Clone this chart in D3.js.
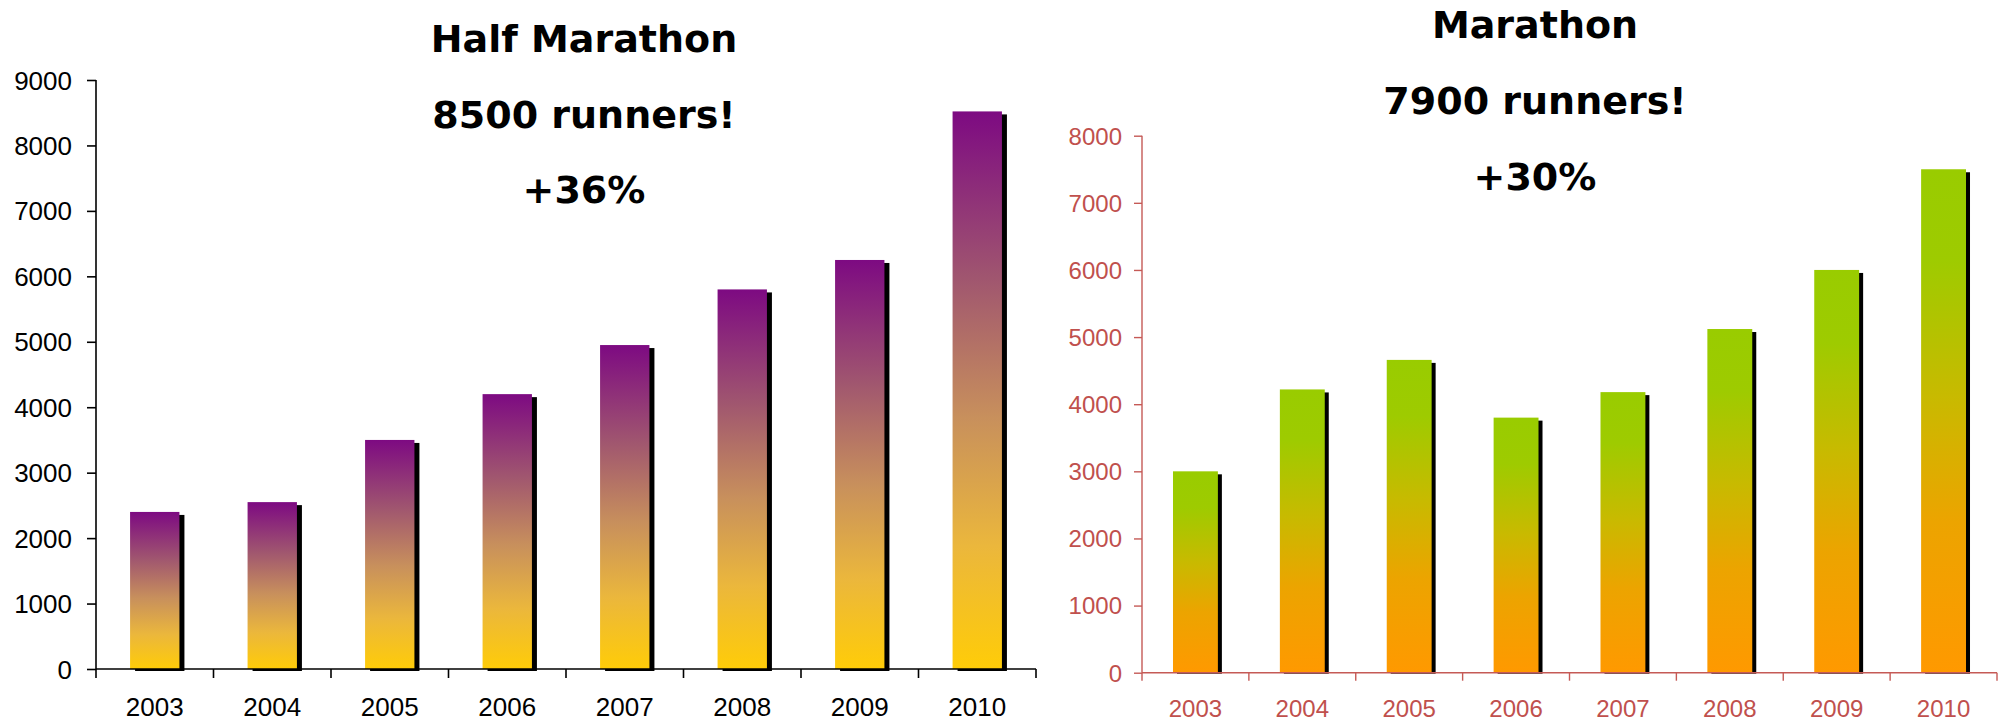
<!DOCTYPE html>
<html>
<head>
<meta charset="utf-8">
<script src="https://cdn.jsdelivr.net/npm/d3@7"></script>
<style>
  html, body { margin: 0; padding: 0; background: #fff; }
  svg { display: block; }
</style>
</head>
<body>
<svg id="chart" width="2004" height="721"></svg>
<script>
// ---- data ----
const years = ["2003", "2004", "2005", "2006", "2007", "2008", "2009", "2010"];
const halfMarathon = [2400, 2550, 3500, 4200, 4950, 5800, 6250, 8520];
const marathon = [3000, 4220, 4660, 3800, 4180, 5120, 6000, 7500];
const halfTicks = [0, 1000, 2000, 3000, 4000, 5000, 6000, 7000, 8000, 9000];
const fullTicks = [0, 1000, 2000, 3000, 4000, 5000, 6000, 7000, 8000];
const halfTitle = ["Half Marathon", "8500 runners!", "+36%"];
const fullTitle = ["Marathon", "7900 runners!", "+30%"];

const svg = d3.select("#chart");
const defs = svg.append("defs");

function gradient(id, stops) {
  const g = defs.append("linearGradient").attr("id", id)
    .attr("x1", 0).attr("y1", 0).attr("x2", 0).attr("y2", 1);
  stops.forEach(s => g.append("stop").attr("offset", s[0]).attr("stop-color", s[1]));
}
gradient("gHalf", [[0, "#7d0a82"], [0.3, "#a0566f"], [0.55, "#c8905c"], [0.78, "#ebb73c"], [1, "#ffcc08"]]);
gradient("gFull", [[0, "#99cc00"], [0.18, "#9ecb00"], [0.45, "#c8ba00"], [0.7, "#eca400"], [1, "#ff9900"]]);

function drawChart(cfg) {
  const g = svg.append("g");
  const x = d3.scaleBand().domain(years).range([cfg.x0, cfg.x1]).padding(0);
  const y = d3.scaleLinear().domain([0, cfg.max]).range([cfg.yBase, cfg.yTop]);
  const bw = x.bandwidth() * 0.42;
  const cx = d => x(d) + x.bandwidth() / 2;

  // shadows
  g.selectAll(".sh").data(cfg.values).join("rect")
    .attr("x", (d, i) => cx(years[i]) - bw / 2 + cfg.shX)
    .attr("y", d => y(d) + cfg.shY)
    .attr("width", bw)
    .attr("height", d => y(0) - y(d) + cfg.shB)
    .attr("fill", "#000");
  // bars
  g.selectAll(".bar").data(cfg.values).join("rect")
    .attr("x", (d, i) => cx(years[i]) - bw / 2)
    .attr("y", d => y(d))
    .attr("width", bw)
    .attr("height", d => y(0) - y(d))
    .attr("fill", `url(#${cfg.grad})`);

  // y axis
  const ya = g.append("g").attr("transform", `translate(${cfg.x0},0)`)
    .call(d3.axisLeft(y).tickValues(cfg.ticks).tickFormat(d3.format("d"))
      .tickSize(cfg.tick).tickPadding(cfg.pad));
  ya.select(".domain").attr("d", `M0,${cfg.yTop}V${cfg.yBase}`)
    .attr("stroke", cfg.axisColor).attr("stroke-width", cfg.sw);
  ya.selectAll(".tick line").attr("stroke", cfg.axisColor).attr("stroke-width", cfg.sw);
  ya.selectAll(".tick text").attr("fill", cfg.textColor)
    .style("font-family", "'Liberation Sans', Arial, sans-serif")
    .style("font-size", cfg.fs + "px").attr("dy", "0.35em");

  // x axis
  const xa = g.append("g").attr("transform", `translate(0,${cfg.yBase})`);
  xa.append("line").attr("x1", cfg.x0).attr("x2", cfg.x1).attr("y1", 0).attr("y2", 0)
    .attr("stroke", cfg.axisColor).attr("stroke-width", cfg.sw);
  const bounds = years.map(d => x(d)).concat([cfg.x1]);
  xa.selectAll(".xt").data(bounds).join("line")
    .attr("x1", d => d).attr("x2", d => d).attr("y1", 0).attr("y2", cfg.tick)
    .attr("stroke", cfg.axisColor).attr("stroke-width", cfg.sw);
  xa.selectAll(".xl").data(years).join("text")
    .attr("x", d => cx(d)).attr("y", cfg.labelDy)
    .attr("text-anchor", "middle").attr("fill", cfg.textColor)
    .style("font-family", "'Liberation Sans', Arial, sans-serif")
    .style("font-size", cfg.fs + "px").text(d => d);

  // title
  g.selectAll(".ttl").data(cfg.title).join("text")
    .attr("x", cfg.titleX).attr("y", (d, i) => cfg.titleY + i * cfg.titleStep)
    .attr("text-anchor", "middle").attr("fill", "#000")
    .style("font-family", "'DejaVu Sans', Verdana, sans-serif")
    .style("font-weight", "bold").style("font-size", "38px").text(d => d);
}

drawChart({
  values: halfMarathon, ticks: halfTicks, max: 9000, title: halfTitle,
  x0: 96, x1: 1036, yBase: 669, yTop: 80, grad: "gHalf",
  shX: 5, shY: 3, shB: -1, tick: 9, pad: 15, sw: 1.6,
  axisColor: "#000", textColor: "#000", fs: 26, labelDy: 47,
  titleX: 584, titleY: 52, titleStep: 75.5
});
drawChart({
  values: marathon, ticks: fullTicks, max: 8000, title: fullTitle,
  x0: 1142, x1: 1997, yBase: 672.7, yTop: 135.7, grad: "gFull",
  shX: 4, shY: 3, shB: -2, tick: 8, pad: 12, sw: 1.4,
  axisColor: "#c55a56", textColor: "#c0504d", fs: 24, labelDy: 44,
  titleX: 1535, titleY: 38, titleStep: 76
});
</script>
</body>
</html>
